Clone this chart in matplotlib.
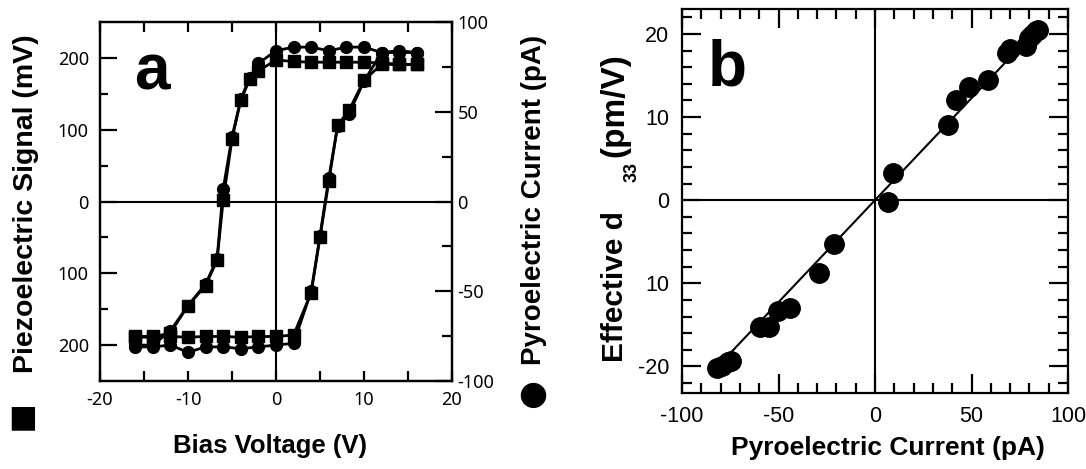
import matplotlib
matplotlib.use("Agg")
import matplotlib.pyplot as plt

# ---------------- data ----------------
# Panel a: hysteresis loops (reverse sweep +16 -> -16, forward sweep -16 -> +16)
bias_rev = [16, 14, 12, 10, 8, 6, 4, 2, 0, -2, -3, -4, -5, -6, -6.7, -8, -10, -12, -14, -16]
piezo_rev = [191, 191, 193, 194, 194, 194, 194, 195, 197, 182, 170, 141, 87, 2, -82, -117, -145, -183, -189, -189]
pyro_rev = [83, 83, 83, 86, 86, 84, 86, 86, 84, 77, 69, 57, 36, 7, -32, -46, -58, -72, -80, -80]

bias_fwd = [-16, -14, -12, -10, -8, -6, -4, -2, 0, 2, 4, 5, 6, 7, 8.3, 10, 12, 14, 16]
piezo_fwd = [-188, -188, -188, -189, -188, -188, -189, -188, -188, -186, -127, -50, 28, 106, 127, 169, 191, 191, 191]
pyro_fwd = [-81, -81, -80, -84, -81, -81, -82, -81, -80, -79, -50, -19, 13, 42, 49, 67, 83, 84, 83]

# Panel b: effective d33 vs pyroelectric current
pyro_current = [-81.8, -79.1, -76.4, -74.6, -59.5, -55.0, -50.5, -44.3, -29.1, -21.1,
                6.6, 9.3, 37.9, 41.8, 48.6, 58.4, 68.2, 70.0, 78.0, 79.8, 81.6, 83.4, 84.3]
d33_eff = [-20.2, -19.9, -19.5, -19.3, -15.3, -15.3, -13.3, -13.0, -8.8, -5.3,
           -0.2, 3.3, 9.1, 12.0, 13.6, 14.5, 17.7, 18.2, 18.5, 19.5, 19.9, 20.3, 20.5]
fit_x = [-77, 0, 86]
fit_y = [-18.9, 0, 21.1]

a_xticks = [-20, -15, -10, -5, 0, 5, 10, 15, 20]
a_xticklabels = ["-20", "", "-10", "", "0", "", "10", "", "20"]
a_lticks = [-200, -100, 0, 100, 200]
a_lticklabels = ["200", "100", "0", "100", "200"]
a_lminor = [-150, -50, 50, 150]
a_rticks = [-100, -50, 0, 50, 100]
a_rticklabels = ["-100", "-50", "0", "50", "100"]
a_rminor = [-75, -25, 25, 75]

b_xticks = [-100, -50, 0, 50, 100]
b_xticklabels = ["-100", "-50", "0", "50", "100"]
b_yticks = [-20, -10, 0, 10, 20]
b_yticklabels = ["-20", "10", "0", "10", "20"]

# ---------------- figure ----------------
W, H = 1086, 469
fig = plt.figure(figsize=(W / 100, H / 100), dpi=100)
BOLD = ["Liberation Sans", "DejaVu Sans"]


def rect(l, t, r, b):
    return [l / W, 1 - b / H, (r - l) / W, (b - t) / H]


def ftext(x, y, s, **kw):
    return fig.text(x / W, 1 - y / H, s, **kw)


LW_SP = 1.6
# ---- panel a ----
ax = fig.add_axes(rect(100, 22, 452, 381))
ax.set_xlim(-20, 20)
ax.set_ylim(-250, 250)
ax2 = ax.twinx()
ax2.set_ylim(-100, 100)
for a_ in (ax, ax2):
    for s in a_.spines.values():
        s.set_linewidth(LW_SP)
ax.axhline(0, color="black", lw=1.5, zorder=1)
ax.axvline(0, color="black", lw=1.5, zorder=1)

ax.plot(bias_rev + bias_fwd, piezo_rev + piezo_fwd, color="black", lw=2.0,
        marker="s", ms=8.5, mfc="black", mec="black", zorder=3)
ax2.plot(bias_rev + bias_fwd, pyro_rev + pyro_fwd, color="black", lw=2.0,
         marker="o", ms=8.5, mfc="black", mec="black", zorder=3)

tickfont_a = {"family": ["Noto Sans", "DejaVu Sans"], "size": 13}
ax.set_xticks(a_xticks)
ax.set_xticklabels(a_xticklabels, fontdict=tickfont_a)
ax.set_yticks(a_lticks)
ax.set_yticklabels(a_lticklabels, fontdict=tickfont_a)
ax.set_yticks(a_lminor, minor=True)
ax.tick_params(axis="x", which="major", direction="in", length=7, width=1.6,
               top=True, bottom=True, pad=7)
ax.tick_params(axis="y", which="major", direction="in", length=12, width=1.6,
               left=True, right=False, pad=8)
ax.tick_params(axis="y", which="minor", direction="in", length=6, width=1.6,
               left=True, right=False)
ax2.set_yticks(a_rticks)
ax2.set_yticklabels(a_rticklabels, fontdict=tickfont_a)
ax2.set_yticks(a_rminor, minor=True)
ax2.tick_params(axis="y", which="major", direction="in", length=12, width=1.6,
                right=True, left=False, pad=4)
ax2.tick_params(axis="y", which="minor", direction="in", length=7, width=1.6,
                right=True, left=False)

ftext(134, 90, "a", family=BOLD, weight="bold", fontsize=46, ha="left", va="baseline")

ftext(270, 453, "Bias Voltage (V)", family=BOLD, weight="bold", fontsize=18.5,
      ha="center", va="baseline")
ftext(33, 204, "Piezoelectric Signal (mV)", family=BOLD, weight="bold", fontsize=20.5,
      rotation=90, ha="center", va="baseline", rotation_mode="anchor")
ftext(23, 418, "\u25A0", family=["DejaVu Sans"], fontsize=22, ha="center", va="center")
ftext(541, 200, "Pyroelectric Current (pA)", family=BOLD, weight="bold", fontsize=20,
      rotation=90, ha="center", va="baseline", rotation_mode="anchor")
ftext(533, 394, "\u25CF", family=["DejaVu Sans"], fontsize=24, ha="center", va="center")

# ---- panel b ----
bx = fig.add_axes(rect(682, 9, 1068, 393))
bx.set_xlim(-100, 100)
bx.set_ylim(-23.2, 23)
for s in bx.spines.values():
    s.set_linewidth(LW_SP)
bx.axhline(0, color="black", lw=1.5, zorder=1)
bx.axvline(0, color="black", lw=1.5, zorder=1)
bx.plot(fit_x, fit_y, color="black", lw=1.5, zorder=2)
bx.plot(pyro_current, d33_eff, linestyle="none", marker="o", ms=14,
        mfc="black", mec="black", zorder=3)

tickfont_b = {"family": ["Liberation Sans", "DejaVu Sans"], "size": 15.5}
bx.set_xticks(b_xticks)
bx.set_xticklabels(b_xticklabels, fontdict=tickfont_b)
bx.set_xticks(list(range(-90, 100, 10)), minor=True)
bx.set_yticks(b_yticks)
bx.set_yticklabels(b_yticklabels, fontdict=tickfont_b)
bx.set_yticks(list(range(-22, 23, 2)), minor=True)
bx.tick_params(which="major", direction="in", length=14, width=1.6,
               top=True, right=True, pad=9)
bx.tick_params(which="minor", direction="in", length=7, width=1.6,
               top=True, right=True)

ftext(708, 85, "b", family=BOLD, weight="bold", fontsize=46, ha="left", va="baseline")
ftext(888, 455, "Pyroelectric Current (pA)", family=BOLD, weight="bold", fontsize=19,
      ha="center", va="baseline")
ftext(623, 362, "Effective d", family=BOLD, weight="bold", fontsize=21.5,
      rotation=90, ha="left", va="baseline", rotation_mode="anchor")
ftext(637, 182, "33", family=BOLD, weight="bold", fontsize=13,
      rotation=90, ha="left", va="baseline", rotation_mode="anchor")
ftext(623, 157, "(pm/V)", family=BOLD, weight="bold", fontsize=24,
      rotation=90, ha="left", va="baseline", rotation_mode="anchor")

fig.savefig("out.png", dpi=100)
